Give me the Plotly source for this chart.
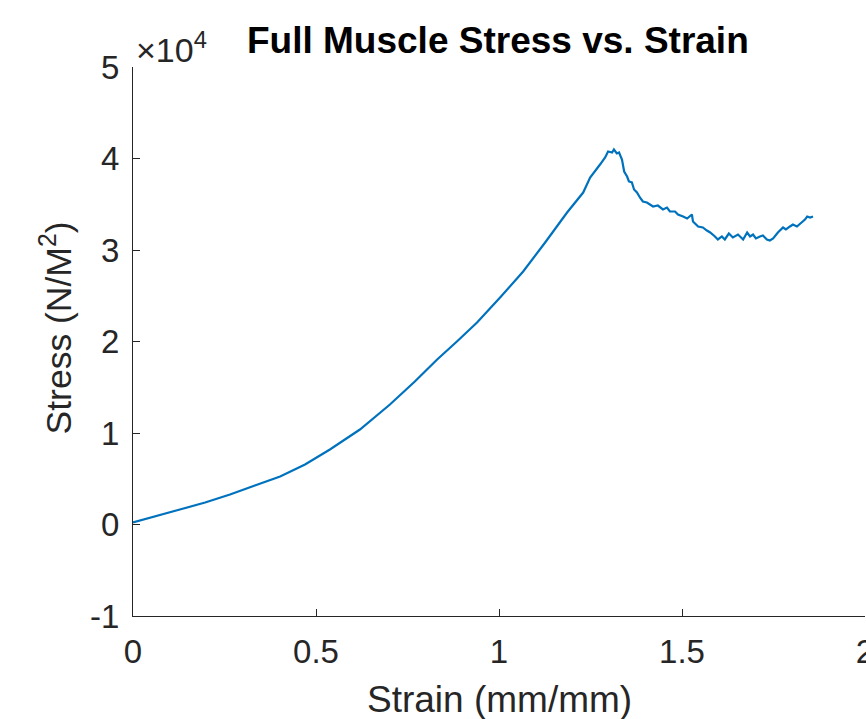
import plotly.graph_objects as go

# Strain (mm/mm) and stress (N/m^2)
strain = [0.000, 0.019, 0.074, 0.128, 0.197, 0.265, 0.333, 0.402, 0.470, 0.538,
          0.620, 0.702, 0.770, 0.831, 0.885, 0.940, 1.003, 1.066, 1.126, 1.186,
          1.230, 1.249, 1.276, 1.290, 1.298, 1.309, 1.314, 1.322, 1.328, 1.336,
          1.342, 1.350, 1.355, 1.363, 1.369, 1.377, 1.385, 1.393, 1.404, 1.413,
          1.421, 1.434, 1.448, 1.459, 1.467, 1.481, 1.489, 1.503, 1.514, 1.527,
          1.530, 1.544, 1.557, 1.568, 1.577, 1.590, 1.598, 1.609, 1.617, 1.628,
          1.639, 1.653, 1.658, 1.667, 1.678, 1.686, 1.694, 1.702, 1.713, 1.721,
          1.732, 1.740, 1.749, 1.762, 1.776, 1.784, 1.795, 1.803, 1.814, 1.828,
          1.836, 1.842, 1.850, 1.858]
stress = [220, 440, 1090, 1640, 2400, 3280, 4260, 5250, 6560, 8200,
          10380, 13110, 15630, 18030, 20000, 22080, 24810, 27650, 30820, 34100,
          36280, 37920, 39340, 40110, 40770, 40660, 40980, 40550, 40660, 39890,
          38580, 38030, 37490, 37380, 36610, 36280, 35740, 35300, 35190, 34970,
          34750, 34860, 34430, 34640, 34210, 34210, 33880, 33660, 33440, 33880,
          33110, 32570, 32460, 32130, 31910, 31480, 31150, 31480, 31150, 31800,
          31370, 31690, 31480, 31150, 31910, 31480, 31690, 31260, 31480, 31590,
          31150, 31040, 31260, 31910, 32460, 32240, 32570, 32790, 32570, 33010,
          33330, 33660, 33550, 33660]

x_ticks = [0, 0.5, 1, 1.5, 2]
x_tick_labels = ["0", "0.5", "1", "1.5", "2"]
y_ticks = [-10000, 0, 10000, 20000, 30000, 40000, 50000]
y_tick_labels = ["-1", "0", "1", "2", "3", "4", "5"]

FONT = "Liberation Sans, Arial, Helvetica, sans-serif"
AX = "#262626"

fig = go.Figure()
fig.add_trace(go.Scatter(x=strain, y=stress, mode="lines",
                         line=dict(color="#0072BD", width=2.2), showlegend=False))

fig.update_layout(
    width=866, height=719,
    margin=dict(l=133, r=1, t=67, b=103, autoexpand=False),
    paper_bgcolor="white", plot_bgcolor="white",
    font=dict(family=FONT, color=AX),
    xaxis=dict(range=[0, 2], tickvals=x_ticks, ticktext=x_tick_labels,
               showgrid=False, zeroline=False, showline=True, linecolor=AX,
               linewidth=1, ticks="inside", ticklen=7, tickcolor=AX,
               tickfont=dict(size=33, color=AX, family=FONT),
               ticklabelstandoff=6, ticklabeloverflow="allow", automargin=False),
    yaxis=dict(range=[-10000, 50000], tickvals=y_ticks, ticktext=y_tick_labels,
               showgrid=False, zeroline=False, showline=True, linecolor=AX,
               linewidth=1, ticks="inside", ticklen=7, tickcolor=AX,
               tickfont=dict(size=33, color=AX, family=FONT),
               ticklabelstandoff=6, ticklabeloverflow="allow", automargin=False),
)

fig.add_annotation(text="<b>Full Muscle Stress vs. Strain</b>", xref="paper", yref="paper",
                   x=0.4986, y=1.048, xanchor="center", yanchor="middle",
                   showarrow=False, font=dict(size=37, color="black", family=FONT))
fig.add_annotation(text="×10<sup>4</sup>", xref="paper", yref="paper",
                   x=0.002, y=1.036, xanchor="left", yanchor="middle",
                   showarrow=False, font=dict(size=34, color=AX, family=FONT))
fig.add_annotation(text="Strain (mm/mm)", xref="paper", yref="paper",
                   x=0.5, y=-0.152, xanchor="center", yanchor="middle",
                   showarrow=False, font=dict(size=37, color=AX, family=FONT))
fig.add_annotation(text="Stress (N/M<sup>2</sup>)", xref="paper", yref="paper",
                   x=-0.105, y=0.524, xanchor="center", yanchor="middle", textangle=-90,
                   showarrow=False, font=dict(size=35.5, color=AX, family=FONT))

fig.write_html("out.html", config={"displayModeBar": False})

# remove the default page margin so the figure sits at the window's corner
with open("out.html", encoding="utf-8") as f:
    html = f.read()
html = html.replace("<head>", "<head><style>html,body{margin:0;padding:0;overflow:hidden;}</style>", 1)
with open("out.html", "w", encoding="utf-8") as f:
    f.write(html)
